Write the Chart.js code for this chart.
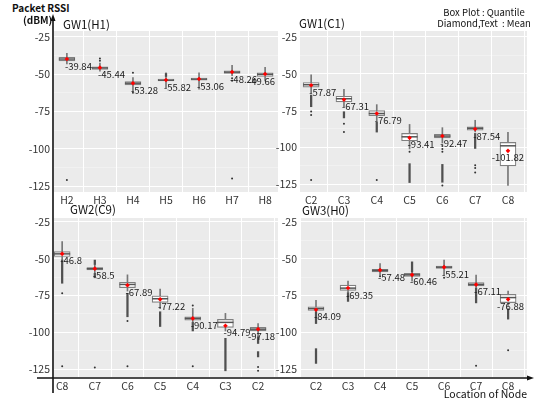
<!DOCTYPE html>
<html>
<head>
<meta charset="utf-8">
<script src="https://cdn.jsdelivr.net/npm/chart.js@4.4.0/dist/chart.umd.min.js"></script>
<style>
    body { margin: 0; background: #fff; }
    #wrap { position: relative; width: 535px; height: 403px; overflow: hidden; font-family: 'Noto Sans CJK KR', 'Noto Sans', sans-serif; color: #111; }
    .panel { position: absolute; }
    .txt { position: absolute; white-space: nowrap; line-height: 1; }
    svg { position: absolute; left: 0; top: 0; }
</style>
</head>
<body>
<div id="wrap">
    <div class="panel" style="left:10px;top:31px;width:268px;height:177px"><canvas id="gw1h"></canvas></div>
    <div class="panel" style="left:256px;top:31px;width:271px;height:177px"><canvas id="gw1c"></canvas></div>
    <div class="panel" style="left:10px;top:218px;width:268px;height:175px"><canvas id="gw2c"></canvas></div>
    <div class="panel" style="left:256px;top:218px;width:271px;height:175px"><canvas id="gw3h"></canvas></div>

    <div class="txt" style="left:12px;top:3px;font-size:10px;font-weight:700">Packet RSSI</div>
    <div class="txt" style="left:23px;top:15px;font-size:10px;font-weight:700">(dBM)</div>
    <div class="txt" style="left:63px;top:19px;font-size:11.5px">GW1(H1)</div>
    <div class="txt" style="left:299px;top:18px;font-size:11.5px">GW1(C1)</div>
    <div class="txt" style="left:70px;top:204px;font-size:11.5px">GW2(C9)</div>
    <div class="txt" style="left:302px;top:205px;font-size:11.5px">GW3(H0)</div>
    <div class="txt" style="left:434px;top:8px;width:100px;text-align:center;font-size:9.5px">Box Plot : Quantile</div>
    <div class="txt" style="left:434px;top:19px;width:100px;text-align:center;font-size:9.5px">Diamond,Text&nbsp;&nbsp;: Mean</div>
    <div class="txt" style="left:407px;top:389px;width:120px;text-align:right;font-size:10.5px">Location of Node</div>

    <svg width="535" height="403">
        <line x1="53" y1="20" x2="53" y2="393" stroke="#111" stroke-width="1.6"/>
        <polygon points="53,14 50.5,21 55.5,21" fill="#111"/>
        <line x1="37" y1="378" x2="528" y2="378" stroke="#111" stroke-width="1.6"/>
        <polygon points="534,378 527,375.5 527,380.5" fill="#111"/>
    </svg>
</div>

<script>
// y axis ticks (shared)
const yMajor = [-25, -50, -75, -100, -125];
const yMinor = [-37.5, -62.5, -87.5, -112.5];

// GW1(H1) : box = [whisker low, q1, median, q3, whisker high]
const gw1hCats = ['H2', 'H3', 'H4', 'H5', 'H6', 'H7', 'H8'];
const gw1hBox = [[-43, -41, -39.8, -38.6, -36], [-48, -46.7, -45.8, -45, -42.5], [-61.5, -57.2, -56, -55, -52.3],
    [-59, -54.5, -54, -53.2, -49], [-60, -54, -53.3, -52.5, -49], [-51, -49.4, -48.6, -47.8, -44], [-54.5, -51.4, -50, -49, -45.3]];
const gw1hMean = [-39.8, -45.6, -56, -53.9, -53.2, -48.5, -49.8];
const gw1hMeanText = ['-39.84', '-45.44', '-53.28', '-55.82', '-53.06', '-48.26', '-49.66'];
const gw1hOut = [[-121], [-39.5, -41], [-49, -62.5], [], [], [-52.7, -54.3, -120], []];
const gw1hStreak = [[], [], [], [[-49.5, -51.5]], [], [], []];

// GW1(C1)
const gw1cCats = ['C2', 'C3', 'C4', 'C5', 'C6', 'C7', 'C8'];
const gw1cBox = [[-63, -59.2, -57.5, -56, -50.8], [-72.4, -69.2, -67, -65.3, -60.6], [-82, -78.5, -77, -75, -71],
    [-101, -95.5, -92.8, -90.5, -84.4], [-97, -93.5, -92.3, -91.2, -86.6], [-89.5, -88.3, -87, -86, -81.6], [-125.7, -112.5, -98.9, -96.6, -89.8]];
const gw1cMean = [-57.9, -67.6, -77, -93.5, -92.3, -87.5, -102.3];
const gw1cMeanText = ['-57.87', '-67.31', '-76.79', '-93.41', '-92.47', '-87.54', '-101.82'];
const gw1cOut = [[-75.7, -78, -122], [-84, -89.5], [-122], [-103], [-99, -101, -103, -125.8], [-112, -114, -117], []];
const gw1cStreak = [[[-64.5, -72.4]], [[-75.8, -80]], [[-83, -89.6]], [[-111, -123.8]], [[-111.5, -123.6]], [[-90.5, -100.7]], []];

// GW2(C9)
const gw2cCats = ['C8', 'C7', 'C6', 'C5', 'C4', 'C3', 'C2'];
const gw2cBox = [[-51, -48.6, -46.8, -45.2, -38.4], [-60, -57.7, -56.8, -56, -54], [-72, -69.7, -67.5, -66, -61],
    [-84, -79.6, -77.2, -75.3, -70.6], [-93, -91.7, -90.5, -89.4, -83.7], [-99, -96.6, -93.2, -91.2, -87.1], [-103, -99, -97.8, -96.6, -94]];
const gw2cMean = [-46.8, -56.8, -68, -77.6, -90.5, -95.5, -97.8];
const gw2cMeanText = ['-46.8', '-58.5', '-67.89', '-77.22', '-90.17', '-94.79', '-97.18'];
const gw2cOut = [[-73.5, -123], [-123.8], [-92.3, -123], [], [-81.7, -123], [], [-123.4, -126]];
const gw2cStreak = [[[-51, -66.7]], [[-51, -54], [-60, -63]], [[-73.5, -89.4]], [[-86, -96]], [[-93.2, -99]], [[-104, -126]], [[-103, -107.5], [-113, -116.6]]];

// GW3(H0)
const gw3hCats = ['C2', 'C3', 'C4', 'C5', 'C6', 'C7', 'C8'];
const gw3hBox = [[-86, -85.1, -83.8, -82.6, -78.3], [-72.5, -71.5, -70, -68, -65.3], [-61.2, -59, -58, -57.2, -53.3],
    [-65.3, -62, -61, -60, -59], [-61.2, -56.7, -55.8, -55, -51], [-70, -68.5, -67.5, -66.2, -61.2], [-81.7, -79.8, -76.4, -74.2, -72]];
const gw3hMean = [-84.6, -69.9, -57.8, -61, -55.8, -67.6, -77.6];
const gw3hMeanText = ['-84.09', '-69.35', '-57.48', '-60.46', '-55.21', '-67.11', '-76.88'];
const gw3hOut = [[], [], [-62], [], [-63], [-122.5], [-112]];
const gw3hStreak = [[[-86, -94], [-111, -121]], [[-73, -79]], [], [[-52.2, -59]], [], [[-70, -80]], [[-84, -91]]];

Chart.defaults.font.family = "'Noto Sans CJK KR', 'Noto Sans', sans-serif";
Chart.defaults.font.size = 10.5;
Chart.defaults.color = '#333';

// grey panel background
const panelBg = {
    id: 'panelBg',
    beforeDraw(chart) {
        const { ctx, chartArea: a } = chart;
        ctx.save();
        ctx.fillStyle = '#EBEBEB';
        ctx.fillRect(a.left, a.top, a.right - a.left, a.bottom - a.top);
        ctx.restore();
    }
};

// mean value text next to the red diamond
const meanLabels = {
    id: 'meanLabels',
    afterDatasetsDraw(chart, args, opts) {
        const { ctx, chartArea, scales: { x, y } } = chart;
        ctx.save();
        ctx.font = "9.5px 'Noto Sans CJK KR', 'Noto Sans', sans-serif";
        ctx.fillStyle = '#1a1a1a';
        ctx.textBaseline = 'middle';
        opts.text.forEach((t, i) => {
            const w = ctx.measureText(t).width;
            let px = x.getPixelForValue(i) - 2;
            if (px + w > chartArea.right - 3) px = chartArea.right - 3 - w;
            ctx.fillText(t, px, y.getPixelForValue(opts.pos[i]) + 7);
        });
        ctx.restore();
    }
};

function buildPanel(id, cats, box, mean, meanText, outs, streaks, view) {
    const whiskers = box.map((b, i) => ({ x: i, y: [b[0], b[4]] }));
    const boxes = box.map((b, i) => ({ x: i, y: [b[1], b[3]] }));
    const medians = box.map((b, i) => ({ x: i, y: b[2] }));
    const means = mean.map((v, i) => ({ x: i, y: v }));
    const outPts = [];
    outs.forEach((arr, i) => arr.forEach(v => outPts.push({ x: i, y: v })));
    const streakBars = [];
    streaks.forEach((arr, i) => arr.forEach(s => streakBars.push({ x: i, y: s })));

    new Chart(document.getElementById(id), {
        type: 'bar',
        data: {
            datasets: [
                { type: 'bar', data: whiskers, backgroundColor: '#777', barThickness: 1, grouped: false, order: 6 },
                { type: 'bar', data: boxes, backgroundColor: '#ffffff', borderColor: '#808080', borderWidth: 1.2,
                  borderSkipped: false, barThickness: 16, grouped: false, order: 5 },
                { type: 'bar', data: streakBars, backgroundColor: '#505050', barThickness: 1.6, grouped: false, order: 4 },
                { type: 'scatter', data: medians, pointStyle: 'line', pointRadius: 8, pointBorderColor: '#555',
                  borderColor: '#555', borderWidth: 1.5, order: 3 },
                { type: 'scatter', data: outPts, pointRadius: 1, backgroundColor: '#333', borderWidth: 0, order: 2 },
                { type: 'scatter', data: means, pointStyle: 'rectRot', pointRadius: 2.3, backgroundColor: '#ff0000',
                  borderColor: '#ff0000', borderWidth: 0, order: 1 }
            ]
        },
        options: {
            responsive: true,
            maintainAspectRatio: false,
            animation: false,
            events: [],
            layout: { padding: 0, autoPadding: false },
            plugins: {
                legend: { display: false },
                tooltip: { enabled: false },
                meanLabels: { text: meanText, pos: mean }
            },
            scales: {
                x: {
                    type: 'linear',
                    min: view.xMin,
                    max: view.xMax,
                    offset: false,
                    border: { display: false },
                    grid: { color: '#ffffff', lineWidth: 1, drawTicks: false },
                    afterBuildTicks: s => { s.ticks = cats.map((c, i) => ({ value: i })); },
                    afterFit: s => { s.height = view.xH; s.paddingLeft = 0; s.paddingRight = 0; },
                    ticks: { padding: view.xPad, maxRotation: 0, autoSkip: false, callback: v => cats[v] }
                },
                y: {
                    min: view.yMin,
                    max: view.yMax,
                    border: { display: false },
                    grid: {
                        drawTicks: false,
                        color: c => yMajor.includes(c.tick && c.tick.value) ? '#ffffff' : 'rgba(255,255,255,0.6)',
                        lineWidth: c => yMajor.includes(c.tick && c.tick.value) ? 1 : 0.5
                    },
                    afterBuildTicks: s => { s.ticks = yMajor.concat(yMinor).sort((a, b) => a - b).map(v => ({ value: v })); },
                    afterFit: s => { s.width = 44; s.paddingTop = 0; s.paddingBottom = 0; },
                    ticks: { padding: view.yPad, callback: v => yMajor.includes(v) ? String(v) : '' }
                }
            }
        },
        plugins: [panelBg, meanLabels]
    });
}

buildPanel('gw1h', gw1hCats, gw1hBox, gw1hMean, gw1hMeanText, gw1hOut, gw1hStreak,
    { xMin: -0.39, xMax: 6.39, yMin: -129, yMax: -21, xH: 16, xPad: 2, yPad: 4 });
buildPanel('gw1c', gw1cCats, gw1cBox, gw1cMean, gw1cMeanText, gw1cOut, gw1cStreak,
    { xMin: -0.34, xMax: 6.58, yMin: -130.2, yMax: -21.1, xH: 16, xPad: 2, yPad: 3 });
buildPanel('gw2c', gw2cCats, gw2cBox, gw2cMean, gw2cMeanText, gw2cOut, gw2cStreak,
    { xMin: -0.25, xMax: 6.61, yMin: -130.2, yMax: -22.5, xH: 16, xPad: 3, yPad: 4 });
buildPanel('gw3h', gw3hCats, gw3hBox, gw3hMean, gw3hMeanText, gw3hOut, gw3hStreak,
    { xMin: -0.5, xMax: 6.59, yMin: -130.2, yMax: -22.5, xH: 16, xPad: 3, yPad: 3 });
</script>
</body>
</html>
